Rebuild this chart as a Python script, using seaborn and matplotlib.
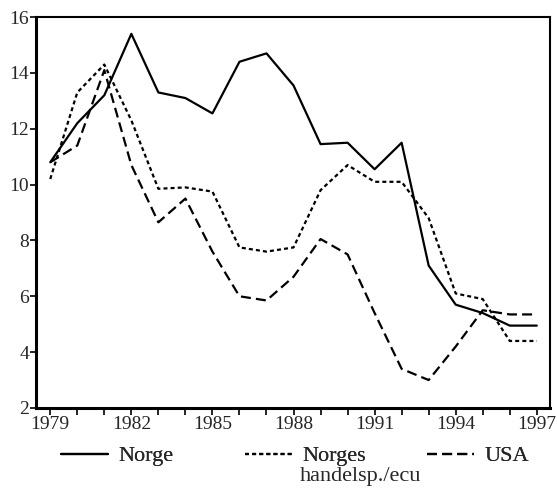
import numpy as np
import pandas as pd
import matplotlib
matplotlib.use("Agg")
import matplotlib.pyplot as plt
import seaborn as sns

years = list(range(1979, 1998))
norge = [10.8, 12.2, 13.2, 15.4, 13.3, 13.1, 12.55, 14.4, 14.7, 13.55,
         11.45, 11.5, 10.55, 11.5, 7.1, 5.7, 5.4, 4.95, 4.95]
handelsp = [10.2, 13.3, 14.3, 12.3, 9.85, 9.9, 9.75, 7.75, 7.6, 7.75,
            9.8, 10.7, 10.1, 10.1, 8.8, 6.1, 5.9, 4.4, 4.4]
usa = [10.8, 11.4, 14.1, 10.7, 8.65, 9.5, 7.6, 6.0, 5.85, 6.7,
       8.05, 7.5, 5.4, 3.4, 3.0, 4.2, 5.5, 5.35, 5.35]
labels = ["Norge", "Norges", "USA"]
label_extra = "handelsp./ecu"

df = pd.DataFrame({"year": years * 3,
                   "value": norge + handelsp + usa,
                   "series": [labels[0]] * len(years) + [labels[1]] * len(years) + [labels[2]] * len(years)})

sns.set_style("white")
plt.rcParams['font.family'] = ['Liberation Serif', 'DejaVu Serif']

fig = plt.figure(figsize=(5.57, 4.88), dpi=100)
ax = fig.add_axes([0.065, 0.164, 0.922, 0.801])

# solid / dotted / dashed
dash_styles = {labels[0]: None, labels[1]: (1.8, 1.4), labels[2]: (4.5, 2.3)}
for lab in labels:
    sub = df[df["series"] == lab]
    sns.lineplot(data=sub, x="year", y="value", ax=ax, color="black", lw=1.6, legend=False)
lines = ax.get_lines()
for line, lab in zip(lines, labels):
    if dash_styles[lab] is not None:
        line.set_dashes(dash_styles[lab])

ax.set_xlim(1978.48, 1997.48)
ax.set_ylim(2, 16)
ax.set_xticks(range(1979, 1998, 3))
ax.set_xticks(years, minor=True)
ax.set_yticks(range(2, 17, 2))
ax.tick_params(axis="both", which="both", direction="out", length=5, width=1.2,
               color="black", labelsize=14, pad=1)
ax.tick_params(axis="x", which="both", bottom=True)
ax.tick_params(axis="y", left=True, length=4)
ax.set_xlabel("")
ax.set_ylabel("")
for side in ["left", "bottom"]:
    ax.spines[side].set_linewidth(2.2)
for side in ["top", "right"]:
    ax.spines[side].set_linewidth(1.5)
for s in ax.spines.values():
    s.set_color("black")

# legend entries placed below the plot, one per series
W, H = 557, 488
handle_x = [61, 245, 427]
for line, lab, hx in zip(lines, labels, handle_x):
    leg = fig.legend([line], [lab], loc="center left",
                     bbox_to_anchor=(hx / W, 1 - 456 / H), frameon=False,
                     fontsize=16, handlelength=2.1, handletextpad=0.5,
                     borderpad=0, borderaxespad=0)
    fig.add_artist(leg)
fig.text(300 / W, 1 - 476 / H, label_extra, fontsize=16, ha="left", va="center")

fig.savefig("out.png", dpi=100)
